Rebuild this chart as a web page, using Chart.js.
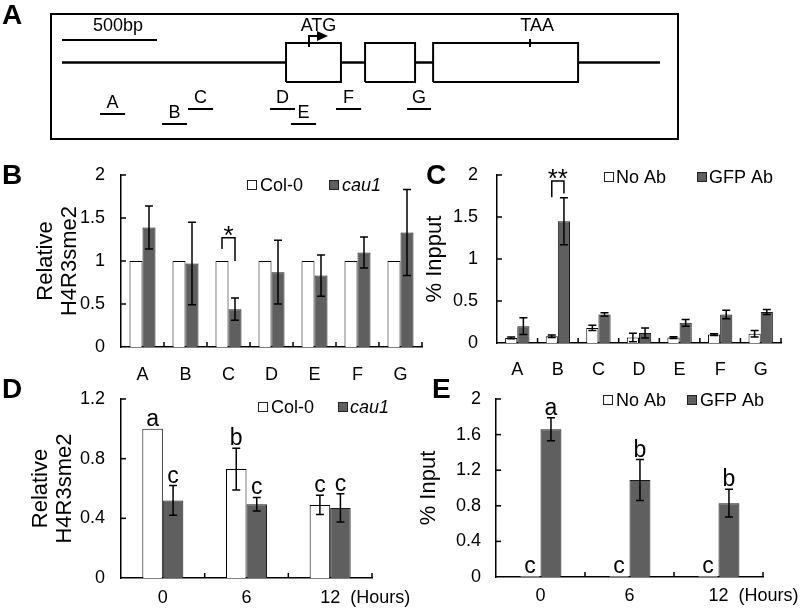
<!DOCTYPE html>
<html><head><meta charset="utf-8">
<script src="https://cdn.jsdelivr.net/npm/chart.js"></script>
<style>
html,body{margin:0;padding:0;background:#fff;}
#wrap{position:relative;width:800px;height:616px;overflow:hidden;font-family:'Liberation Sans',Arial,sans-serif;color:#000;}
canvas{position:absolute;left:0;top:0;}
.pl{position:absolute;font-weight:bold;font-size:28px;line-height:28px;}
#box{position:absolute;left:50px;top:13px;width:629px;height:127px;border:2px solid #000;box-sizing:border-box;}
</style></head>
<body><div id="wrap">
<div id="box"></div>
<canvas id="cA" width="800" height="150"></canvas>
<canvas id="cB" width="800" height="616"></canvas>
<canvas id="cC" width="800" height="616"></canvas>
<canvas id="cD" width="800" height="616"></canvas>
<canvas id="cE" width="800" height="616"></canvas>
<div class="pl" style="left:2px;top:1px">A</div>
<div class="pl" style="left:2px;top:161px">B</div>
<div class="pl" style="left:426px;top:161px">C</div>
<div class="pl" style="left:2px;top:375px">D</div>
<div class="pl" style="left:432px;top:375px">E</div>
</div>
<script>
// ---------- Panel A: gene diagram (bp units) ----------
const geneEndBp = 3147;
const exonStartBp = [1179, 1595, 1953];
const exonEndBp = [1468, 1858, 2716];
const atgBp = 1300;
const taaBp = 2463;
const scaleBarBp = 500;
const primerNames = ['A','B','C','D','E','F','G'];
const primerStartBp = [200, 526, 663, 1095, 1205, 1442, 1816];
const primerEndBp = [332, 658, 795, 1226, 1337, 1574, 1942];
const primerRow = [-2.64, -3.15, -2.38, -2.38, -3.15, -2.38, -2.38];

// ---------- Panel B ----------
const regionLabels = ['A','B','C','D','E','F','G'];
const bCol0 = [1, 1, 1, 1, 1, 1, 1];
const bCol0Err = [0, 0, 0, 0, 0, 0, 0];
const bCau1 = [1.39, 0.97, 0.44, 0.87, 0.83, 1.10, 1.33];
const bCau1Err = [0.25, 0.48, 0.13, 0.37, 0.24, 0.18, 0.50];

// ---------- Panel C ----------
const cNoAb = [0.06, 0.08, 0.18, 0.065, 0.065, 0.10, 0.11];
const cNoAbErr = [0.01, 0.015, 0.03, 0.05, 0.01, 0.01, 0.04];
const cGfpAb = [0.20, 1.45, 0.34, 0.12, 0.24, 0.34, 0.37];
const cGfpAbErr = [0.10, 0.28, 0.02, 0.06, 0.04, 0.05, 0.03];

// ---------- Panel D ----------
const hourLabels = ['0','6','12'];
const dCol0 = [1.0, 0.73, 0.49];
const dCol0Err = [0, 0.14, 0.065];
const dCol0Letters = ['a','b','c'];
const dCau1 = [0.52, 0.495, 0.47];
const dCau1Err = [0.10, 0.045, 0.095];
const dCau1Letters = ['c','c','c'];

// ---------- Panel E ----------
const eNoAb = [0.01, 0.01, 0.01];
const eNoAbErr = [0, 0, 0];
const eNoAbLetters = ['c','c','c'];
const eGfpAb = [1.66, 1.09, 0.83];
const eGfpAbErr = [0.13, 0.23, 0.155];
const eGfpAbLetters = ['a','b','b'];

const FONT = "'Liberation Sans', Arial, sans-serif";
Chart.defaults.font.family = FONT;
Chart.defaults.color = '#000';

// ---------- diagram ----------
const lineDs = (pts, w) => ({data: pts, showLine: true, borderColor: '#000', borderWidth: w, pointRadius: 0, fill: false, tension: 0});
const diaSets = [];
let prev = 0;
exonStartBp.forEach((s, i) => { diaSets.push(lineDs([{x: prev, y: 0}, {x: s, y: 0}], 2.5)); prev = exonEndBp[i]; });
diaSets.push(lineDs([{x: prev, y: 0}, {x: geneEndBp, y: 0}], 2.5));
exonStartBp.forEach((s, i) => {
  const e = exonEndBp[i];
  diaSets.push(lineDs([{x: s, y: -1}, {x: s, y: 1}, {x: e, y: 1}, {x: e, y: -1}, {x: s, y: -1}], 2));
});
diaSets.push(lineDs([{x: 0, y: 1.15}, {x: scaleBarBp, y: 1.15}], 2));
diaSets.push(lineDs([{x: taaBp, y: 0.8}, {x: taaBp, y: 1.2}], 2));
diaSets.push(lineDs([{x: atgBp, y: 0.8}, {x: atgBp, y: 1.36}, {x: atgBp + 50, y: 1.36}], 2));
primerNames.forEach((n, i) => diaSets.push(lineDs([{x: primerStartBp[i], y: primerRow[i]}, {x: primerEndBp[i], y: primerRow[i]}], 2)));

const diagramText = {
  id: 'diagramText',
  afterDraw(chart) {
    const ctx = chart.ctx, xs = chart.scales.x, ys = chart.scales.y;
    ctx.save();
    ctx.fillStyle = '#000';
    const hx = xs.getPixelForValue(atgBp + 42), tip = xs.getPixelForValue(atgBp + 100), hy = ys.getPixelForValue(1.36);
    ctx.beginPath(); ctx.moveTo(hx, hy - 5); ctx.lineTo(tip, hy); ctx.lineTo(hx, hy + 5); ctx.closePath(); ctx.fill();
    ctx.font = '18px ' + FONT;
    ctx.textAlign = 'center'; ctx.textBaseline = 'middle';
    ctx.fillText('500bp', xs.getPixelForValue(295), ys.getPixelForValue(1.85));
    ctx.fillText('ATG', xs.getPixelForValue(atgBp + 50), ys.getPixelForValue(1.85));
    ctx.fillText('TAA', xs.getPixelForValue(taaBp + 37), ys.getPixelForValue(1.85));
    primerNames.forEach((n, i) => {
      const x = xs.getPixelForValue((primerStartBp[i] + primerEndBp[i]) / 2);
      const y = ys.getPixelForValue(primerRow[i]) - 11;
      ctx.fillText(n, x, y);
    });
    ctx.restore();
  }
};

new Chart(document.getElementById('cA'), {
  type: 'scatter',
  data: {datasets: diaSets},
  options: {
    responsive: false, animation: false,
    layout: {padding: {left: 62, right: 140, top: 4, bottom: 9.5}},
    scales: {x: {type: 'linear', display: false, min: 0, max: geneEndBp}, y: {type: 'linear', display: false, min: -4, max: 3}},
    plugins: {legend: {display: false}, tooltip: {enabled: false}}
  },
  plugins: [diagramText]
});

// ---------- bar charts ----------
const decor = {
  id: 'decor',
  afterDraw(chart, args, o) {
    const ctx = chart.ctx, xs = chart.scales.x, ys = chart.scales.y, ca = chart.chartArea;
    ctx.save();
    ctx.strokeStyle = '#000'; ctx.fillStyle = '#000'; ctx.lineWidth = 1.5;
    ys.ticks.forEach(t => {
      if (t.value <= ys.min) return;
      const y = ys.getPixelForValue(t.value);
      ctx.beginPath(); ctx.moveTo(ca.left, y); ctx.lineTo(ca.left + 5, y); ctx.stroke();
    });
    const n = chart.data.labels.length;
    for (let i = 1; i <= n; i++) {
      const x = i < n ? (xs.getPixelForValue(i - 1) + xs.getPixelForValue(i)) / 2 : ca.right;
      ctx.beginPath(); ctx.moveTo(x, ca.bottom); ctx.lineTo(x, ca.bottom - 5); ctx.stroke();
    }
    chart.data.datasets.forEach((ds, di) => {
      const meta = chart.getDatasetMeta(di);
      ds.data.forEach((v, i) => {
        const e = ds.errors ? ds.errors[i] : 0;
        const bx = meta.data[i].x;
        if (e > 0) {
          const y1 = ys.getPixelForValue(v + e), y2 = ys.getPixelForValue(v - e);
          ctx.beginPath();
          ctx.moveTo(bx, y1); ctx.lineTo(bx, y2);
          ctx.moveTo(bx - 4, y1); ctx.lineTo(bx + 4, y1);
          ctx.moveTo(bx - 4, y2); ctx.lineTo(bx + 4, y2);
          ctx.stroke();
        }
        if (ds.letters) {
          ctx.font = '23px ' + FONT; ctx.textAlign = 'center'; ctx.textBaseline = 'alphabetic';
          ctx.fillText(ds.letters[i], bx, ys.getPixelForValue(v + e) - 3);
        }
      });
    });
    (o.brackets || []).forEach(b => {
      const xl = chart.getDatasetMeta(0).data[b.index].x, xr = chart.getDatasetMeta(1).data[b.index].x;
      const yt = ys.getPixelForValue(b.top);
      ctx.beginPath();
      ctx.moveTo(xl, ys.getPixelForValue(b.from)); ctx.lineTo(xl, yt); ctx.lineTo(xr, yt); ctx.lineTo(xr, ys.getPixelForValue(b.to));
      ctx.stroke();
      ctx.font = '26px ' + FONT; ctx.textAlign = 'center'; ctx.textBaseline = 'alphabetic';
      ctx.fillText(b.text, (xl + xr) / 2, yt + 6);
    });
    (o.legend || []).forEach((it, di) => {
      const ds = chart.data.datasets[di];
      ctx.fillStyle = ds.backgroundColor; ctx.strokeStyle = '#222'; ctx.lineWidth = 1;
      ctx.fillRect(it.x, it.y - 5, 10, 10); ctx.strokeRect(it.x + 0.5, it.y - 4.5, 9, 9);
      ctx.fillStyle = '#000';
      ctx.font = (ds.italic ? 'italic ' : '') + '18px ' + FONT; ctx.textAlign = 'left'; ctx.textBaseline = 'middle';
      ctx.fillText(ds.label, it.tx, it.y + 1);
    });
    if (o.unit) {
      const x = xs.getPixelForValue(n - 1) + 20;
      ctx.font = '18px ' + FONT; ctx.textAlign = 'left'; ctx.textBaseline = 'middle';
      ctx.fillText(o.unit, x, ca.bottom + o.xpad + 10.8);
    }
    ctx.restore();
  }
};

function barChart(id, c) {
  const mk = (label, data, errors, letters, bg, bc, italic) => ({
    label, data, errors, letters, italic, backgroundColor: bg, borderColor: bc, borderWidth: 1,
    categoryPercentage: c.cp, barPercentage: 1
  });
  return new Chart(document.getElementById(id), {
    type: 'bar',
    data: {labels: c.labels, datasets: [
      mk(c.names[0], c.v0, c.e0, c.l0, '#ffffff', '#000000', false),
      mk(c.names[1], c.v1, c.e1, c.l1, '#5f5f5f', '#1a1a1a', c.italic)
    ]},
    options: {
      responsive: false, animation: false,
      layout: {padding: {left: c.boxLeft, top: c.top, right: 800 - c.right, bottom: 616 - c.bottom - c.xh}},
      plugins: {legend: {display: false}, tooltip: {enabled: false},
        decor: {legend: c.legend, brackets: c.brackets, unit: c.unit, xpad: c.xpad}},
      scales: {
        x: {grid: {display: false, drawTicks: false}, border: {display: true, color: '#000', width: 1.5},
            ticks: {color: '#000', font: {size: 18}, padding: c.xpad, autoSkip: false, maxRotation: 0},
            afterFit: s => { s.height = c.xh; }},
        y: {min: 0, max: c.ymax, grid: {display: false, drawTicks: false}, border: {display: true, color: '#000', width: 1.5},
            ticks: {stepSize: c.step, color: '#000', font: {size: 18}, padding: c.ypad,
                    callback: v => String(Number(v.toFixed(2)))},
            title: {display: true, text: c.title, color: '#000', font: {size: 22, lineHeight: 1.1}, padding: {top: c.tpad, bottom: 0}},
            afterFit: s => { s.width = c.left - c.boxLeft; }}
      }
    },
    plugins: [decor]
  });
}

barChart('cB', {labels: regionLabels, names: ['Col-0', 'cau1'], italic: true,
  v0: bCol0, e0: bCol0Err, v1: bCau1, e1: bCau1Err, cp: 0.605,
  boxLeft: 30, left: 121, right: 422, top: 175, bottom: 347, xh: 50, xpad: 17, ypad: 16, tpad: 4,
  ymax: 2, step: 0.5, title: ['Relative', 'H4R3sme2'],
  legend: [{x: 247, y: 185, tx: 260}, {x: 329, y: 185, tx: 342}],
  brackets: [{index: 2, from: 1.14, top: 1.27, to: 1.0, text: '*'}]});

barChart('cC', {labels: regionLabels, names: ['No Ab', 'GFP Ab'], italic: false,
  v0: cNoAb, e0: cNoAbErr, v1: cGfpAb, e1: cGfpAbErr, cp: 0.6,
  boxLeft: 420, left: 497, right: 781, top: 175, bottom: 343, xh: 50, xpad: 16, ypad: 19, tpad: 3,
  ymax: 2, step: 0.5, title: '% Inpput',
  legend: [{x: 604, y: 177, tx: 616}, {x: 697, y: 177, tx: 709}],
  brackets: [{index: 1, from: 1.735, top: 1.93, to: 1.78, text: '**'}]});

barChart('cD', {labels: hourLabels, names: ['Col-0', 'cau1'], italic: true,
  v0: dCol0, e0: dCol0Err, l0: dCol0Letters, v1: dCau1, e1: dCau1Err, l1: dCau1Letters, cp: 0.49,
  boxLeft: 25, left: 121, right: 372, top: 399, bottom: 578, xh: 30, xpad: 9, ypad: 16, tpad: 4,
  ymax: 1.2, step: 0.4, title: ['Relative', 'H4R3sme2'], unit: '(Hours)',
  legend: [{x: 258, y: 407, tx: 271}, {x: 338, y: 407, tx: 350}]});

barChart('cE', {labels: hourLabels, names: ['No Ab', 'GFP Ab'], italic: false,
  v0: eNoAb, e0: eNoAbErr, l0: eNoAbLetters, v1: eGfpAb, e1: eGfpAbErr, l1: eGfpAbLetters, cp: 0.47,
  boxLeft: 413, left: 496, right: 763, top: 399, bottom: 577, xh: 30, xpad: 8, ypad: 15, tpad: 4,
  ymax: 2, step: 0.4, title: '% Input', unit: '(Hours)',
  legend: [{x: 603, y: 400, tx: 616}, {x: 687, y: 400, tx: 700}]});
</script>
</body></html>
